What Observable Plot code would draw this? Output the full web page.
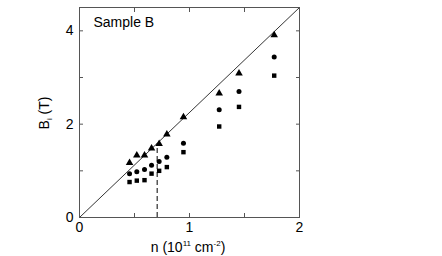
<!DOCTYPE html>
<html>
<head>
<meta charset="utf-8">
<script src="https://cdn.jsdelivr.net/npm/d3@7"></script>
<script src="https://cdn.jsdelivr.net/npm/@observablehq/plot@0.6"></script>
<style>
  body { margin: 0; background: #fff; }
  svg { font-family: "Liberation Sans", Arial, sans-serif; }
</style>
</head>
<body>
<div id="chart"></div>
<script>
// Data
const nValues = [0.455, 0.521, 0.591, 0.655, 0.724, 0.794, 0.945, 1.27, 1.45, 1.77];
const triangleB = [1.17, 1.33, 1.33, 1.48, 1.58, 1.78, 2.15, 2.66, 3.09, 3.91];
const circleB   = [0.94, 0.98, 1.03, 1.12, 1.20, 1.29, 1.59, 2.31, 2.70, 3.44];
const squareB   = [0.76, 0.79, 0.80, 0.94, 1.00, 1.08, 1.40, 1.95, 2.37, 3.04];
const fitN = [0, 2];
const fitB = [0, 4.5];
const dashN = [0.706];
const dashTop = [1.58];
const xTicksMajor = [0, 1, 2];
const xTicksAll = [0, 0.5, 1, 1.5, 2];
const yTicksMajor = [0, 2, 4];
const yTicksAll = [0, 1, 2, 3, 4];
const sampleLabel = "Sample B";

const tri = nValues.map((n, i) => ({n, B: triangleB[i]}));
const cir = nValues.map((n, i) => ({n, B: circleB[i]}));
const sq = nValues.map((n, i) => ({n, B: squareB[i]}));
const fit = fitN.map((n, i) => ({n, B: fitB[i]}));
const dash = dashN.map((n, i) => ({n, B: dashTop[i]}));

const chart = Plot.plot({
  width: 442,
  height: 256,
  marginLeft: 79,
  marginRight: 143,
  marginTop: 7,
  marginBottom: 39,
  style: {fontFamily: "Liberation Sans, Arial, sans-serif", fontSize: "13px", color: "#000", background: "#fff"},
  x: {domain: [0, 2]},
  y: {domain: [0, 4.5]},
  marks: [
    Plot.line(fit, {x: "n", y: "B", stroke: "#000", strokeWidth: 0.8}),
    Plot.ruleX(dash, {x: "n", y1: 0, y2: "B", stroke: "#000", strokeWidth: 1, strokeDasharray: "5,3"}),
    Plot.dot(tri, {x: "n", y: "B", symbol: "triangle", r: 2.8, fill: "#000", stroke: "none"}),
    Plot.dot(cir, {x: "n", y: "B", symbol: "circle", r: 2.5, fill: "#000", stroke: "none"}),
    Plot.dot(sq, {x: "n", y: "B", symbol: "square", r: 2.5, fill: "#000", stroke: "none"}),
    Plot.frame({stroke: "#555", strokeWidth: 1}),
    Plot.axisX({anchor: "bottom", ticks: xTicksMajor, tickSize: 0, tickPadding: 5, label: null, fontSize: 14, tickFormat: d => d}),
    Plot.axisX({anchor: "bottom", ticks: xTicksAll, tickSize: -4, tickFormat: () => "", label: null, stroke: "#555"}),
    Plot.axisX({anchor: "top", ticks: xTicksAll, tickSize: -4, tickFormat: () => "", label: null, stroke: "#555"}),
    Plot.axisY({anchor: "left", ticks: yTicksMajor, tickSize: 0, tickPadding: 6, label: null, fontSize: 14, tickFormat: d => d}),
    Plot.axisY({anchor: "left", ticks: yTicksAll, tickSize: -4, tickFormat: () => "", label: null, stroke: "#555"}),
    Plot.axisY({anchor: "right", ticks: yTicksAll, tickSize: -4, tickFormat: () => "", label: null, stroke: "#555"}),
    Plot.text([sampleLabel], {frameAnchor: "top-left", dx: 14, dy: 10, fontSize: 14, fill: "#000", textAnchor: "start"})
  ]
});

document.getElementById("chart").appendChild(chart);

// Axis titles with sub/superscripts
const svg = d3.select(chart);
const yl = svg.append("text")
  .attr("transform", "translate(49,113) rotate(-90)")
  .attr("text-anchor", "middle")
  .attr("font-size", 14)
  .attr("fill", "#000");
yl.append("tspan").text("B");
yl.append("tspan").attr("font-size", 8).attr("dy", 3).text("i");
yl.append("tspan").attr("dy", -3).text(" (T)");

const xl = svg.append("text")
  .attr("x", 188)
  .attr("y", 252)
  .attr("text-anchor", "middle")
  .attr("font-size", 14)
  .attr("fill", "#000");
xl.append("tspan").text("n (10");
xl.append("tspan").attr("font-size", 8).attr("dy", -6).text("11");
xl.append("tspan").attr("dy", 6).text(" cm");
xl.append("tspan").attr("font-size", 8).attr("dy", -6).text("-2");
xl.append("tspan").attr("dy", 6).text(")");
</script>
</body>
</html>
